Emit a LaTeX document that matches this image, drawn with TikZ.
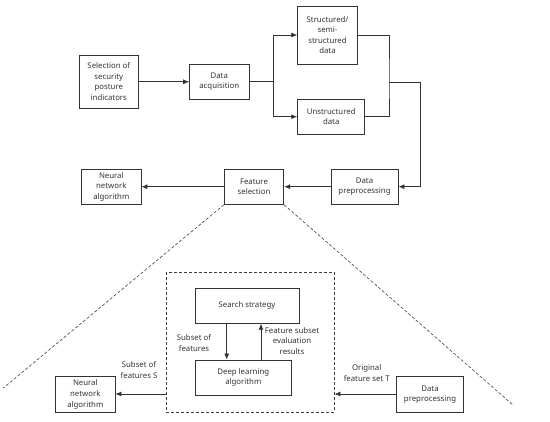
\documentclass[tikz,border=0pt]{standalone}
\usepackage{fontspec}
\setmainfont{Noto Sans}
\usetikzlibrary{arrows.meta}
\begin{document}
\begin{tikzpicture}[x=1pt,y=-1pt,
  box/.style={draw=black!80,line width=0.9pt,rectangle,align=center,inner sep=1pt,
    font=\fontsize{7.8}{10.6}\selectfont,text=black!80},
  lbl/.style={align=center,inner sep=0pt,font=\fontsize{7.8}{10.6}\selectfont,text=black!80},
  conn/.style={draw=black!80,line width=0.8pt},
  arr/.style={conn,-{Latex[length=6pt,width=5pt]}},
  dsh/.style={draw=black!75,line width=0.6pt,dash pattern=on 3pt off 2pt}]
\useasboundingbox (0,0) rectangle (550,422);
\fill[white] (0,0) rectangle (550,422);
% top part
\node[box,minimum width=59pt,minimum height=53.3pt] (sel) at (108.8,81.7) {Selection of\\security\\posture\\indicators};
\node[box,minimum width=59.3pt,minimum height=35pt] (acq) at (219.3,81.8) {Data\\acquisition};
\node[box,minimum width=59.6pt,minimum height=58pt] (str) at (327.5,35) {Structured/\\semi-\\structured\\data};
\node[box,minimum width=67pt,minimum height=35.3pt] (uns) at (331.2,116.7) {Unstructured\\data};
\node[box,minimum width=59.3pt,minimum height=35.3pt] (nn) at (111.3,186.7) {Neural\\network\\algorithm};
\node[box,minimum width=59.4pt,minimum height=35.3pt] (fs) at (254,186.7) {Feature\\selection};
\node[box,minimum width=67pt,minimum height=35.3pt] (pre) at (364.5,186.7) {Data\\preprocessing};
\coordinate (br) at (273.3,81.8);
\coordinate (mg) at (389,82.3);
\coordinate (rt) at (420.7,82.3);
\draw[arr] (sel.east |- acq.east) -- (acq.west);
\draw[conn] (acq.east) -- (br);
\draw[arr] (br) |- (str.west);
\draw[arr] (br) |- (uns.west);
\draw[conn] (str.east) -| (mg) |- (uns.east);
\draw[arr] (mg) -- (rt) |- (pre.east);
\draw[arr] (pre.west) -- (fs.east);
\draw[arr] (fs.west) -- (nn.east);
% zoom lines
\coordinate (zl) at (3.3,388);
\coordinate (zr) at (513,405);
\draw[dsh] (fs.south west) -- (zl);
\draw[dsh] (fs.south east) -- (zr);
% bottom part
\node[draw=black!75,line width=0.9pt,dash pattern=on 3pt off 2pt,minimum width=168pt,minimum height=139.6pt,inner sep=0pt] (dbox) at (250,342.5) {};
\node[box,minimum width=104pt,minimum height=35pt] (ss) at (247,305.8) {Search strategy};
\node[box,minimum width=96.7pt,minimum height=35pt] (dl) at (243.3,377.5) {Deep learning\\algorithm};
\node[box,minimum width=59.3pt,minimum height=35.6pt] (nn2) at (85.3,394.5) {Neural\\network\\algorithm};
\node[box,minimum width=66.6pt,minimum height=35.6pt] (pre2) at (430,394.5) {Data\\preprocessing};
\draw[arr] ([xshift=-20.3pt]ss.south) -- ([xshift=-16.6pt]dl.north);
\draw[arr] ([xshift=17.7pt]dl.north) -- ([xshift=14pt]ss.south);
\node[lbl] (l1) at (194,343) {Subset of\\features};
\node[lbl] (l2) at (292,341) {Feature subset\\evaluation\\results};
\coordinate (dbw) at (dbox.west |- 0,394);
\coordinate (dbe) at (dbox.east |- 0,394);
\draw[arr] (dbw) -- (nn2.east |- dbw);
\draw[arr] (pre2.west |- dbe) -- (dbe);
\node[lbl] (l3) at (139,370) {Subset of\\features S};
\node[lbl] (l4) at (366.7,373) {Original\\feature set T};
\end{tikzpicture}
\end{document}
